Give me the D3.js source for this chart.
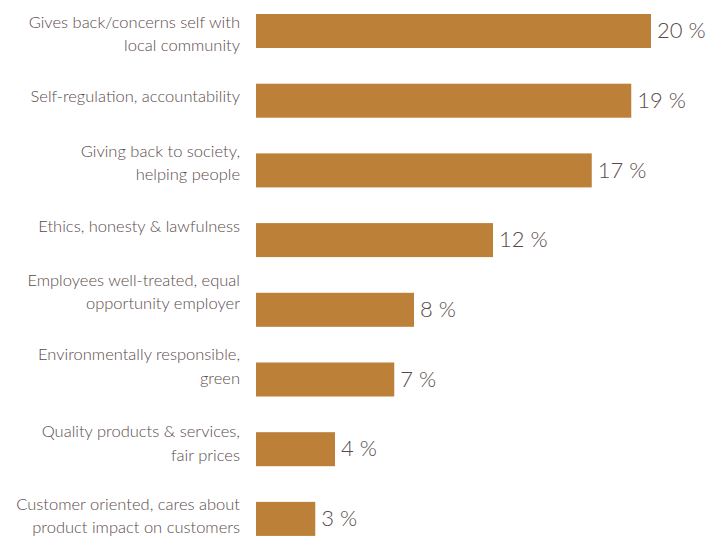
<!DOCTYPE html>
<html>
<head>
<meta charset="utf-8">
<script src="https://cdn.jsdelivr.net/npm/d3@7"></script>
<style>
  html, body { margin: 0; padding: 0; background: #ffffff; }
  svg { display: block; }
</style>
</head>
<body>
<div id="chart"></div>
<script>
const categories = [
  ["Gives back/concerns self with", "local community"],
  ["Self-regulation, accountability"],
  ["Giving back to society,", "helping people"],
  ["Ethics, honesty & lawfulness"],
  ["Employees well-treated, equal", "opportunity employer"],
  ["Environmentally responsible,", "green"],
  ["Quality products & services,", "fair prices"],
  ["Customer oriented, cares about", "product impact on customers"]
];
const values = [20, 19, 17, 12, 8, 7, 4, 3];
const valueLabels = ["20 %", "19 %", "17 %", "12 %", "8 %", "7 %", "4 %", "3 %"];

// layout: vertical nudge of each category label relative to its bar centre (px)
const labelShift = [8.5, 1.0, -1.9, -8.4, -12.3, -7.7, -0.2, 2.8];

const W = 707, H = 537;
const barColor = "#bc8038";
const textColor = "#5a4b4b";
const font = "Lato, 'Open Sans', sans-serif";

const svg = d3.select("#chart").append("svg")
  .attr("width", W).attr("height", H);

const ids = d3.range(categories.length);
const y = d3.scaleBand()
  .domain(ids)
  .range([14, 535.9])
  .paddingInner(0.512)
  .paddingOuter(0);

const x = d3.scaleLinear()
  .domain([0, 20])
  .range([256, 651]);

const g = svg.append("g");

g.selectAll("rect.bar")
  .data(values)
  .join("rect")
  .attr("class", "bar")
  .attr("x", x(0))
  .attr("y", (d, i) => y(i))
  .attr("width", d => x(d) - x(0))
  .attr("height", y.bandwidth())
  .attr("fill", barColor);

g.selectAll("text.val")
  .data(values)
  .join("text")
  .attr("class", "val")
  .attr("x", d => x(d) + 6)
  .attr("y", (d, i) => y(i) + y.bandwidth() / 2)
  .attr("dy", "0.33em")
  .attr("font-family", font)
  .attr("font-weight", 300)
  .attr("font-size", 22)
  .attr("fill", textColor)
  .text((d, i) => valueLabels[i]);

const lab = g.selectAll("text.cat")
  .data(categories)
  .join("text")
  .attr("class", "cat")
  .attr("text-anchor", "end")
  .attr("font-family", font)
  .attr("font-weight", 300)
  .attr("font-size", 16.5)
  .attr("fill", textColor)
  .attr("transform", (d, i) => `translate(240, ${y(i) + y.bandwidth() / 2 + labelShift[i]})`);

lab.selectAll("tspan")
  .data(d => d.map((t, j) => ({ t, j, n: d.length })))
  .join("tspan")
  .attr("x", 0)
  .attr("y", d => (d.j - (d.n - 1) / 2) * 23.5)
  .text(d => d.t);
</script>
</body>
</html>
